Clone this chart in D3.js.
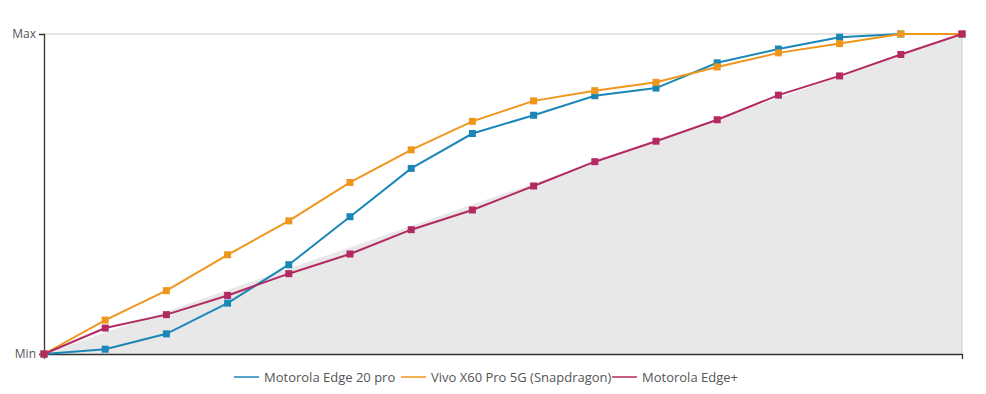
<!DOCTYPE html>
<html>
<head>
<meta charset="utf-8">
<script src="https://cdn.jsdelivr.net/npm/d3@7"></script>
<style>
  body { margin: 0; background: #fff; }
  text { font-family: "Open Sans", "Noto Sans", sans-serif; }
</style>
</head>
<body>
<div id="graph"></div>
<script>
const width = 986, height = 394;
const margin = {top: 34, right: 24, bottom: 40, left: 44};

// one point per step, values normalised between Min (0) and Max (1)
const steps = d3.range(0, 16);
const yTicks = [0, 1];
const yTickLabels = ["Min", "Max"];

const seriesNames = ["Motorola Edge 20 pro", "Vivo X60 Pro 5G (Snapdragon)", "Motorola Edge+"];
const seriesColors = ["#1b87b7", "#ef961d", "#b22a61"];
const edge20pro = [0, 0.015, 0.063, 0.159, 0.279, 0.429, 0.580, 0.689, 0.746, 0.807, 0.831, 0.910, 0.953, 0.990, 1, 1];
const vivoX60 = [0, 0.106, 0.198, 0.310, 0.416, 0.536, 0.638, 0.727, 0.791, 0.823, 0.849, 0.897, 0.941, 0.970, 1, 1];
const edgePlus = [0, 0.081, 0.123, 0.183, 0.251, 0.3125, 0.3885, 0.450, 0.525, 0.601, 0.665, 0.732, 0.809, 0.869, 0.936, 1];
// grey background band (reference)
const reference = [0, 0.067, 0.133, 0.2, 0.267, 0.333, 0.4, 0.467, 0.533, 0.6, 0.667, 0.733, 0.8, 0.867, 0.933, 1];

const allSeries = [edge20pro, vivoX60, edgePlus];

const svg = d3.select("div#graph").append("svg")
  .attr("width", width)
  .attr("height", height);

const x = d3.scaleLinear().domain([0, steps.length - 1]).range([margin.left, width - margin.right]);
const y = d3.scaleLinear().domain([0, 1]).range([height - margin.bottom, margin.top]);

// grey area
svg.append("path")
  .datum(reference)
  .attr("fill", "#e8e8e8")
  .attr("d", d3.area().x((d, i) => x(i)).y0(y(0)).y1(d => y(d)));

// max gridline and right border
svg.append("line")
  .attr("x1", x(0)).attr("x2", x(15))
  .attr("y1", y(1)).attr("y2", y(1))
  .style("stroke", "#c8c8c8").style("stroke-width", 1);
svg.append("line")
  .attr("x1", x(15)).attr("x2", x(15))
  .attr("y1", y(1)).attr("y2", y(0))
  .style("stroke", "#cfcfcf").style("stroke-width", 1);

// axes
const yAxis = svg.append("g")
  .attr("transform", "translate(" + x(0) + ",0)")
  .call(d3.axisLeft(y).tickValues(yTicks).tickFormat((d, i) => yTickLabels[i]).tickSize(5).tickPadding(3));
const xAxis = svg.append("g")
  .attr("transform", "translate(0," + y(0) + ")")
  .call(d3.axisBottom(x).tickValues([15]).tickFormat("").tickSize(5));
[yAxis, xAxis].forEach(a => {
  a.select(".domain").attr("stroke", "#333").attr("stroke-width", 1.3);
  a.selectAll(".tick line").attr("stroke", "#333");
  a.selectAll(".tick text").attr("fill", "#555").style("font-size", "12px");
});

// lines and markers
const line = d3.line().x((d, i) => x(i)).y(d => y(d));
allSeries.forEach((s, k) => {
  svg.append("path")
    .datum(s)
    .attr("fill", "none")
    .attr("stroke", seriesColors[k])
    .attr("stroke-width", 2)
    .attr("d", line);
  svg.selectAll("rect.m" + k).data(s).enter().append("rect")
    .attr("class", "m" + k)
    .attr("x", (d, i) => x(i) - 3.5)
    .attr("y", d => y(d) - 3.5)
    .attr("width", 7).attr("height", 7)
    .attr("fill", seriesColors[k]);
});

// legend
const legendX = [234, 401, 612];
const legend = svg.append("g").attr("transform", "translate(0,377)");
seriesNames.forEach((name, k) => {
  legend.append("line")
    .attr("x1", legendX[k]).attr("x2", legendX[k] + 25)
    .attr("y1", 0).attr("y2", 0)
    .attr("stroke", seriesColors[k]).attr("stroke-width", 1.5);
  legend.append("text")
    .attr("x", legendX[k] + 30).attr("y", 0)
    .attr("dy", "0.35em")
    .attr("fill", "#555")
    .style("font-size", "13px")
    .text(name);
});
</script>
</body>
</html>
